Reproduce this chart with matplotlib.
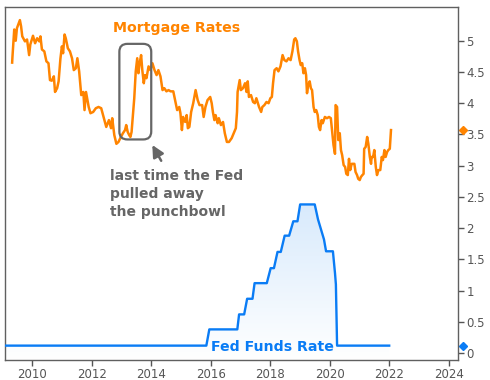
import matplotlib
matplotlib.use("Agg")
import matplotlib.pyplot as plt
import numpy as np
from matplotlib.patches import FancyBboxPatch
from matplotlib.colors import LinearSegmentedColormap

# 30 yr mortgage rate
mort_year = [2009.33, 2009.34, 2009.40, 2009.45, 2009.49, 2009.59, 2009.63, 2009.67, 2009.76, 2009.83,
             2009.90, 2009.94, 2010.03, 2010.10, 2010.17, 2010.24, 2010.28, 2010.33, 2010.41, 2010.48,
             2010.55, 2010.60, 2010.66, 2010.73, 2010.77, 2010.84, 2010.89, 2010.95, 2011.00, 2011.04,
             2011.09, 2011.13, 2011.20, 2011.27, 2011.34, 2011.40, 2011.47, 2011.52, 2011.58, 2011.65,
             2011.72, 2011.76, 2011.81, 2011.90, 2011.96, 2012.05, 2012.14, 2012.23, 2012.32, 2012.41,
             2012.49, 2012.58, 2012.65, 2012.69, 2012.76, 2012.83, 2012.90, 2012.96, 2013.05, 2013.12,
             2013.16, 2013.21, 2013.26, 2013.30, 2013.34, 2013.39, 2013.43, 2013.48, 2013.53, 2013.57,
             2013.61, 2013.66, 2013.70, 2013.75, 2013.79, 2013.84, 2013.91, 2013.97, 2014.04, 2014.11,
             2014.18, 2014.24, 2014.31, 2014.38, 2014.44, 2014.51, 2014.58, 2014.65, 2014.74, 2014.80,
             2014.87, 2014.94, 2014.98, 2015.03, 2015.07, 2015.14, 2015.19, 2015.23, 2015.28, 2015.34,
             2015.41, 2015.49, 2015.56, 2015.62, 2015.71, 2015.76, 2015.82, 2015.89, 2015.98, 2016.03,
             2016.07, 2016.12, 2016.16, 2016.23, 2016.27, 2016.34, 2016.41, 2016.47, 2016.54, 2016.61,
             2016.70, 2016.77, 2016.84, 2016.88, 2016.90, 2016.97, 2017.01, 2017.08, 2017.15, 2017.20,
             2017.24, 2017.28, 2017.35, 2017.42, 2017.48, 2017.53, 2017.58, 2017.62, 2017.69, 2017.73,
             2017.80, 2017.87, 2017.94, 2018.00, 2018.05, 2018.09, 2018.14, 2018.21, 2018.27, 2018.34,
             2018.41, 2018.47, 2018.54, 2018.61, 2018.68, 2018.74, 2018.80, 2018.84, 2018.89, 2018.93,
             2018.98, 2019.02, 2019.07, 2019.11, 2019.16, 2019.20, 2019.23, 2019.27, 2019.32, 2019.36,
             2019.40, 2019.45, 2019.49, 2019.54, 2019.59, 2019.63, 2019.67, 2019.72, 2019.76, 2019.83,
             2019.90, 2019.97, 2020.03, 2020.08, 2020.12, 2020.17, 2020.19, 2020.24, 2020.28, 2020.33,
             2020.37, 2020.41, 2020.46, 2020.51, 2020.55, 2020.60, 2020.64, 2020.68, 2020.73, 2020.77,
             2020.82, 2020.86, 2020.91, 2020.95, 2021.00, 2021.04, 2021.09, 2021.13, 2021.15, 2021.20,
             2021.25, 2021.29, 2021.34, 2021.38, 2021.40, 2021.45, 2021.49, 2021.54, 2021.58, 2021.63,
             2021.69, 2021.74, 2021.78, 2021.83, 2021.87, 2021.92, 2021.96, 2022.01, 2022.05]
mort_rate = [4.65, 4.74, 5.18, 5.00, 5.20, 5.33, 5.23, 5.07, 4.99, 5.02,
             4.77, 4.94, 5.08, 4.96, 5.04, 4.99, 5.07, 4.86, 4.83, 4.67,
             4.64, 4.37, 4.36, 4.43, 4.18, 4.24, 4.35, 4.71, 4.91, 4.80,
             5.10, 5.04, 4.88, 4.83, 4.72, 4.53, 4.56, 4.72, 4.51, 4.13,
             4.18, 3.89, 4.18, 3.94, 3.84, 3.86, 3.92, 3.94, 3.92, 3.76,
             3.62, 3.73, 3.60, 3.76, 3.49, 3.35, 3.38, 3.44, 3.52, 3.57,
             3.65, 3.54, 3.49, 3.46, 3.54, 3.84, 4.08, 4.51, 4.72, 4.48,
             4.64, 4.77, 4.53, 4.32, 4.45, 4.40, 4.59, 4.53, 4.64, 4.53,
             4.45, 4.53, 4.43, 4.21, 4.24, 4.19, 4.21, 4.19, 4.19, 4.05,
             3.89, 3.94, 3.84, 3.57, 3.78, 3.70, 3.81, 3.60, 3.62, 3.86,
             4.00, 4.21, 4.05, 3.97, 3.97, 3.78, 3.94, 4.05, 4.10, 4.00,
             3.86, 3.73, 3.81, 3.68, 3.76, 3.65, 3.70, 3.52, 3.38, 3.38,
             3.44, 3.52, 3.60, 3.86, 4.18, 4.37, 4.21, 4.24, 4.32, 4.18,
             4.35, 4.10, 4.13, 4.02, 4.00, 4.08, 4.00, 3.94, 3.86, 3.94,
             3.97, 4.02, 4.00, 4.08, 4.10, 4.32, 4.53, 4.56, 4.51, 4.59,
             4.77, 4.69, 4.67, 4.72, 4.69, 4.83, 5.02, 5.04, 4.99, 4.83,
             4.69, 4.61, 4.64, 4.48, 4.56, 4.45, 4.16, 4.29, 4.35, 4.24,
             4.21, 3.94, 3.86, 3.89, 3.81, 3.62, 3.57, 3.73, 3.68, 3.78,
             3.76, 3.78, 3.76, 3.52, 3.33, 3.19, 3.97, 3.94, 3.41, 3.52,
             3.25, 3.17, 3.01, 2.98, 2.87, 2.85, 3.11, 2.93, 3.03, 3.03,
             3.03, 2.90, 2.85, 2.79, 2.77, 2.82, 2.85, 2.87, 3.27, 3.30,
             3.46, 3.35, 3.14, 3.03, 3.14, 3.14, 3.25, 2.98, 2.85, 2.93,
             2.93, 3.14, 3.09, 3.25, 3.14, 3.22, 3.25, 3.27, 3.57]

# effective fed funds rate
fed_year = [2009.09, 2015.85, 2015.95, 2016.89, 2016.95, 2017.12, 2017.22, 2017.40, 2017.47, 2017.88,
            2018.01, 2018.12, 2018.24, 2018.35, 2018.48, 2018.63, 2018.77, 2018.91, 2019.00, 2019.49,
            2019.60, 2019.80, 2019.87, 2020.10, 2020.17, 2020.20, 2020.24, 2021.99]
fed_rate = [0.12, 0.12, 0.38, 0.38, 0.62, 0.62, 0.87, 0.87, 1.12, 1.12,
            1.36, 1.36, 1.62, 1.62, 1.88, 1.88, 2.11, 2.11, 2.38, 2.38,
            2.14, 1.82, 1.63, 1.63, 1.28, 1.10, 0.12, 0.12]

xticks = [2010, 2012, 2014, 2016, 2018, 2020, 2022, 2024]
yticks = [0, 0.5, 1, 1.5, 2, 2.5, 3, 3.5, 4, 4.5, 5]
ytick_labels = ["0", "0.5", "1", "1.5", "2", "2.5", "3", "3.5", "4", "4.5", "5"]

orange = "#ff8400"
blue = "#0a7cf5"
grey = "#666666"

fig = plt.figure(figsize=(4.9, 3.8), dpi=100)
ax = fig.add_axes([5/490, 20/380, 453/490, 353/380])
xmin, xmax = 2009.09, 2024.3
ymin, ymax = -0.11, 5.54
ax.set_xlim(xmin, xmax)
ax.set_ylim(ymin, ymax)

# gradient fill under the fed funds line
fill = ax.fill_between(fed_year, fed_rate, ymin, color="none", lw=0)
cmap = LinearSegmentedColormap.from_list("fade", ["#ffffff", "#d8eafc"])
grad = np.linspace(0, 1, 256).reshape(-1, 1)
im = ax.imshow(grad, cmap=cmap, aspect="auto", origin="lower",
               extent=[xmin, xmax, ymin, max(fed_rate)], zorder=1)
im.set_clip_path(fill.get_paths()[0], transform=ax.transData)

ax.plot(fed_year, fed_rate, color=blue, lw=1.7, zorder=3)
ax.plot(mort_year, mort_rate, color=orange, lw=1.8, zorder=3)

# last values on the right edge
ax.plot([1.011], [mort_rate[-1]], marker="D", ms=4, color=orange, clip_on=False,
        transform=ax.get_yaxis_transform())
ax.plot([1.011], [fed_rate[-1]], marker="D", ms=4, color=blue, clip_on=False,
        transform=ax.get_yaxis_transform())

ax.text(2012.7, 5.2, "Mortgage Rates", color=orange, fontsize=10.2, fontweight="bold",
        va="center", ha="left")
ax.text(2016.0, 0.1, "Fed Funds Rate", color=blue, fontsize=10.2, fontweight="bold",
        va="center", ha="left", zorder=4)

# box round the 2013 taper tantrum
box = FancyBboxPatch((2012.93, 3.42), 1.07, 1.53,
                     boxstyle="round,pad=0,rounding_size=0.27", mutation_aspect=0.47,
                     fill=False, ec=grey, lw=1.6, zorder=4)
ax.add_patch(box)
ax.annotate("", xy=(2013.99, 3.37), xytext=(2014.38, 3.04),
            arrowprops=dict(arrowstyle="-|>,head_length=0.7,head_width=0.35", color=grey, lw=1.8))
ax.text(2012.62, 2.95, "last time the Fed\npulled away\nthe punchbowl", color=grey,
        fontsize=10, fontweight="bold", va="top", ha="left", linespacing=1.38)

ax.set_xticks(xticks)
ax.set_yticks(yticks)
ax.set_yticklabels(ytick_labels)
ax.yaxis.tick_right()
ax.tick_params(axis="both", colors="#555555", labelsize=8.5, length=4, width=1)
ax.tick_params(axis="y", pad=2)
ax.tick_params(axis="x", pad=2)
for s in ax.spines.values():
    s.set_color("#606060")
    s.set_linewidth(1)

fig.savefig("out.png", dpi=100)
